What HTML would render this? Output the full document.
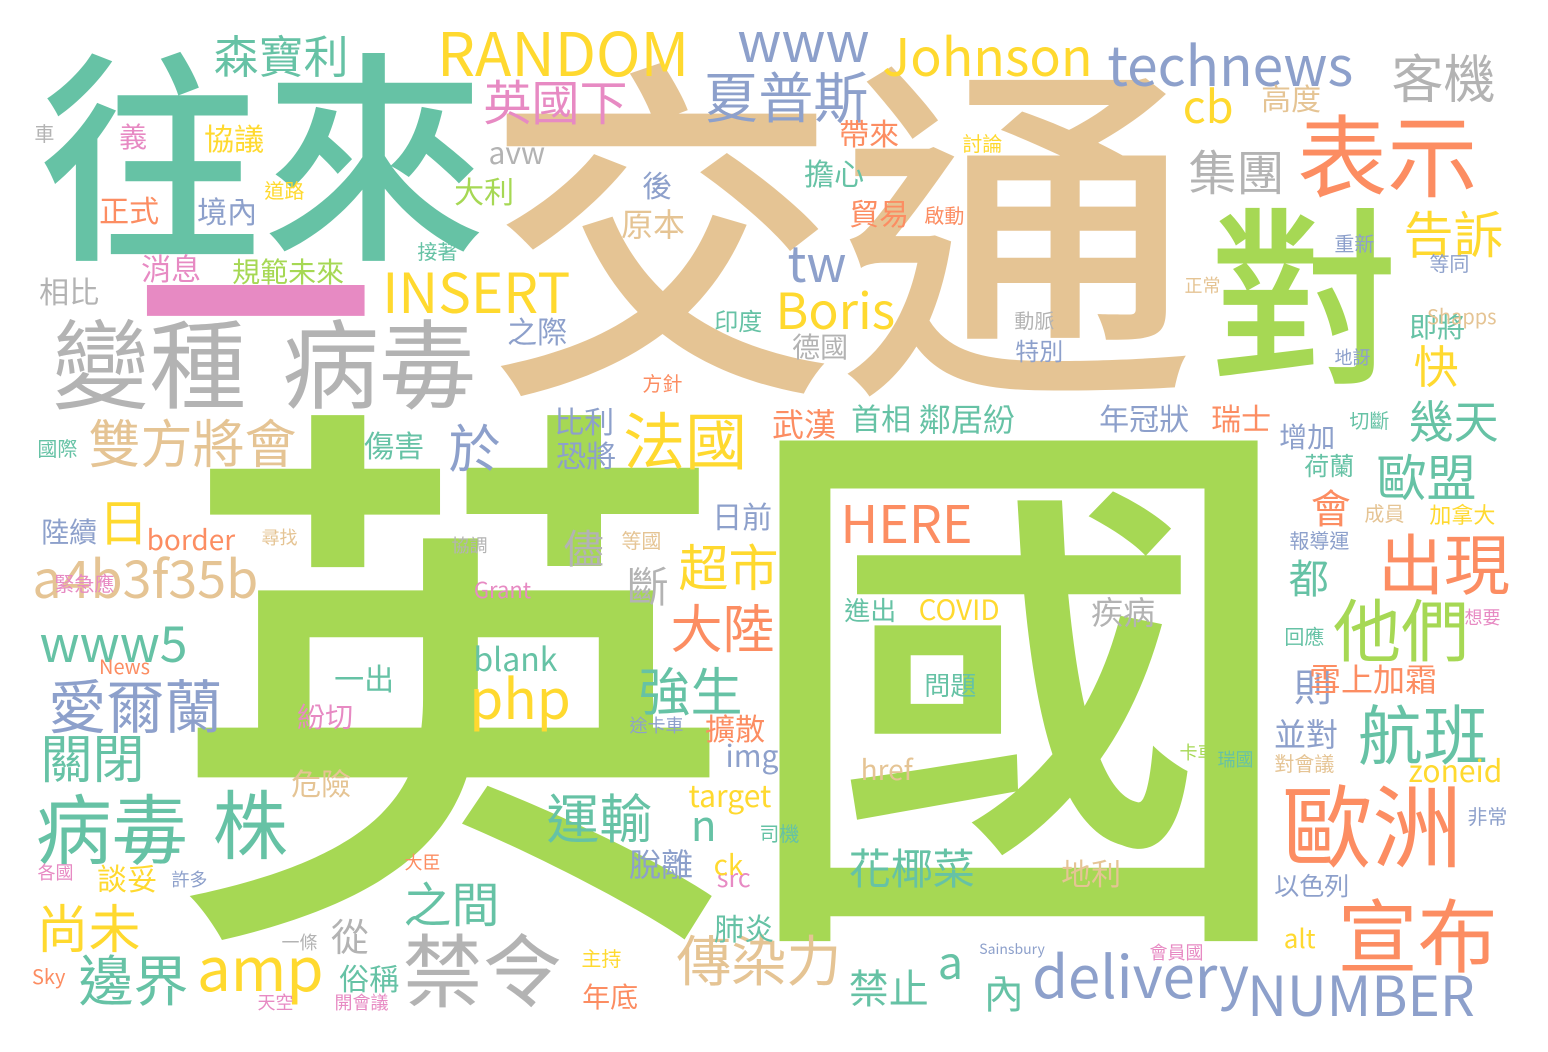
<!DOCTYPE html>
<html><head><meta charset="utf-8">
<style>
html,body{margin:0;padding:0;background:#fff;}
#cloud{position:relative;width:1548px;height:1052px;overflow:hidden;background:#fff;}
#cloud span{position:absolute;white-space:nowrap;line-height:1;font-family:"Noto Sans CJK TC","Liberation Sans",sans-serif;}
</style></head>
<body>
<div id="cloud"></div>
<script>
const G='#a6d854',T='#e5c494',E='#66c2a5',O='#fc8d62',B='#8da0cb',P='#e78ac3',Y='#ffd92f',R='#b3b3b3';
const words=[
['英國',G,565,188,420,'c'],['交通',T,355,495,70,'c'],['往來',E,224,45,55,'c'],['一',P,235,138,172,'r'],
['對',G,190,1215,210,'c'],['表示',O,90,1300,115,'c'],['變種',R,97,55,320,'c'],['病毒',R,97,285,320,'c'],
['病毒',E,76,38,795,'c'],['株',E,75,215,790,'c'],['歐洲',O,90,1285,785,'c'],['宣布',O,80,1340,900,'c'],
['出現',O,66,1380,535,'c'],['他們',G,68,1335,600,'c'],['航班',E,65,1360,705,'c'],['禁令',R,80,405,935,'c'],
['傳染力',T,55,678,935,'c'],['delivery',B,58,1035,955,'u'],['NUMBER',B,55,1250,975,'u'],['邊界',E,55,80,955,'c'],
['amp',Y,60,200,960,'x'],['a4b3f35b',T,52,35,560,'u'],['www5',E,50,42,625,'u'],['愛爾蘭',B,58,50,680,'c'],
['關閉',E,52,42,735,'c'],['尚未',Y,52,38,905,'c'],['雙方將會',T,52,90,420,'c'],['日',Y,50,100,500,'c'],
['INSERT',Y,55,385,272,'u'],['Boris',Y,50,778,292,'u'],['tw',B,50,790,245,'u'],['於',B,52,450,425,'c'],
['法國',Y,62,625,412,'c'],['超市',Y,50,680,545,'c'],['大陸',O,52,672,605,'c'],['強生',E,52,640,668,'c'],
['php',Y,55,472,690,'x'],['運輸',E,53,548,795,'c'],['之間',E,48,405,882,'c'],['HERE',O,52,843,505,'u'],
['花椰菜',E,42,850,850,'c'],['RANDOM',Y,60,440,32,'u'],['Johnson',Y,52,885,38,'u'],['technews',B,55,1110,45,'u'],
['www',B,55,740,33,'x'],['夏普斯',B,55,705,72,'c'],['英國下',P,48,485,80,'c'],['森寶利',E,45,215,35,'c'],
['客機',R,52,1393,55,'c'],['集團',R,48,1190,150,'c'],['cb',Y,45,1185,90,'u'],['告訴',Y,50,1405,212,'c'],
['快',Y,45,1415,345,'c'],['幾天',E,45,1410,400,'c'],['歐盟',E,50,1378,455,'c'],['高度',T,30,1262,85,'c'],
['帶來',O,30,840,120,'c'],['擔心',E,30,805,160,'c'],['貿易',O,30,850,200,'c'],['首相',E,30,852,405,'c'],
['鄰居紛',E,32,920,405,'c'],['年冠狀',B,30,1100,405,'c'],['瑞士',O,30,1212,405,'c'],['武漢',O,32,773,410,'c'],
['比利',B,30,555,408,'c'],['恐將',B,30,557,442,'c'],['儘',R,40,565,530,'c'],['斷',R,42,628,568,'c'],
['會',O,40,1312,490,'c'],['都',E,40,1290,560,'c'],['則',B,38,1295,670,'c'],['雪上加霜',O,32,1310,665,'c'],
['並對',B,32,1275,720,'c'],['zoneid',Y,30,1410,760,'u'],['img',B,30,727,745,'u'],['target',Y,30,690,785,'u'],
['n',E,42,693,820,'x'],['a',E,45,940,955,'x'],['內',E,40,985,975,'c'],['禁止',E,40,850,970,'c'],
['脫離',B,32,630,850,'c'],['肺炎',E,30,715,915,'c'],['年底',O,28,583,985,'c'],['俗稱',E,30,340,965,'c'],
['從',R,38,332,920,'c'],['談妥',Y,30,98,865,'c'],['危險',T,30,292,770,'c'],['紛切',P,28,298,705,'c'],
['一出',E,30,335,665,'c'],['blank',E,32,475,648,'u'],['Grant',P,22,475,582,'u'],['border',O,28,148,530,'u'],
['陸續',B,28,42,520,'c'],['傷害',E,30,365,432,'c'],['大利',G,30,455,178,'c'],['avw',R,30,490,148,'x'],
['後',B,30,643,172,'c'],['原本',T,32,622,210,'c'],['境內',B,30,198,198,'c'],['正式',O,30,100,197,'c'],
['協議',Y,30,205,125,'c'],['義',P,28,120,125,'c'],['消息',P,30,142,255,'c'],['規範未來',G,28,233,260,'c'],
['相比',R,30,40,278,'c'],['之際',B,30,508,318,'c'],['德國',R,28,793,335,'c'],['印度',E,24,715,310,'c'],
['特別',B,24,1016,340,'c'],['日前',B,30,713,503,'c'],['進出',E,26,845,600,'c'],['COVID',Y,28,920,600,'u'],
['疾病',R,32,1092,598,'c'],['問題',E,26,925,675,'c'],['href',T,28,862,760,'u'],['地利',T,30,1062,860,'c'],
['以色列',B,25,1275,875,'c'],['alt',Y,26,1285,930,'u'],['荷蘭',E,25,1305,455,'c'],['增加',B,28,1280,425,'c'],
['即將',E,28,1410,315,'c'],['擴散',O,30,706,715,'c'],['司機',E,20,760,825,'c'],['src',P,25,718,875,'x'],
['ck',Y,28,715,855,'u'],['方針',O,20,643,375,'c'],['Shapps',T,20,1428,310,'u'],['車',R,20,35,125,'c'],
['道路',Y,20,265,182,'c'],['接著',E,20,418,243,'c'],['討論',Y,20,963,135,'c'],['啟動',O,20,925,207,'c'],
['重新',B,20,1335,235,'c'],['等同',B,20,1430,255,'c'],['地訝',B,18,1335,350,'c'],['切斷',E,20,1350,412,'c'],
['加拿大',Y,22,1430,505,'c'],['回應',E,20,1285,628,'c'],['想要',P,18,1465,610,'c'],['非常',B,20,1468,808,'c'],
['國際',E,20,38,440,'c'],['緊急應',P,20,55,575,'c'],['News',O,20,100,660,'u'],['各國',P,18,38,865,'c'],
['Sky',O,20,33,970,'u'],['天空',P,18,258,995,'c'],['開會議',P,18,335,995,'c'],['主持',Y,20,582,950,'c'],
['一條',R,18,282,935,'c'],['許多',B,18,172,872,'c'],['大臣',O,18,405,855,'c'],['Sainsbury',B,14,980,945,'u'],
['會員國',P,18,1150,945,'c'],['正常',T,18,1185,278,'c'],['動脈',R,20,1015,312,'c'],['瑞國',E,18,1218,752,'c'],
['成員',T,20,1365,505,'c'],['報導運',B,20,1290,532,'c'],['對會議',T,20,1275,755,'c'],['卡車',G,18,1180,745,'c'],
['途卡車',B,18,630,718,'c'],['尋找',T,18,262,530,'c'],['協調',R,18,452,538,'c'],['等國',T,20,622,532,'c']
];
const cloud=document.getElementById('cloud');
for(let i=0;i<words.length;i++){
  const w=words[i];
  const el=document.createElement('span');
  el.textContent=w[0];
  
  
  const fs=w[2];
  let top=w[4],left=w[3];
  if(w[5]==='c'){top-=0.1*fs;left-=0.03*fs;}
  else if(w[5]==='u'){top-=0.19*fs;left-=0.05*fs;}
  else if(w[5]==='x'){top-=0.4*fs;left-=0.05*fs;}
  el.style.left=left+'px';
  el.style.top=top+'px';
  el.style.fontSize=fs+'px';
  el.style.color=w[1];
  el.style.fontWeight=w[0]==='一'?'700':(fs>=150?'500':'400');
  cloud.appendChild(el);
}
</script>
</body></html>
